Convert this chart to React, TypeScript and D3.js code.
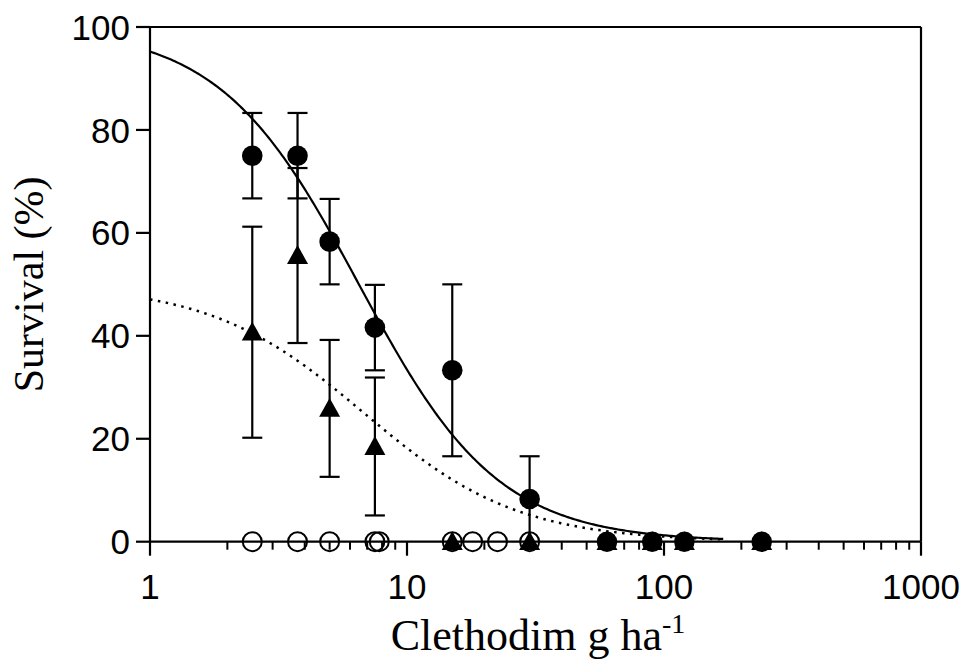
import React from "react";
import * as d3 from "d3";

// ---- data ----
const circleDose = [2.5, 3.75, 5, 7.5, 15, 30, 60, 90, 120, 240];
const circleSurv = [75, 75, 58.3, 41.6, 33.3, 8.3, 0, 0, 0, 0];
const circleErr = [8.3, 8.3, 8.3, 8.3, 16.7, 8.3, 0, 0, 0, 0];

const triDose = [2.5, 3.75, 5, 7.5, 15, 30, 60, 90, 120, 240];
const triSurv = [40.7, 55.6, 25.9, 18.5, 0, 0, 0, 0, 0, 0];
const triErr = [20.5, 17, 13.3, 13.4, 0, 0, 0, 0, 0, 0];

const openDose = [2.5, 3.75, 5, 7.5, 7.8, 15, 18, 22.5, 30];
const openSurv = [0, 0, 0, 0, 0, 0, 0, 0, 0];

// fitted log-logistic curves: top / (1 + (dose/ed50)^slope)
const solidFit = { top: 100, ed50: 6.5, slope: 1.6, maxDose: 170 };
const dottedFit = { top: 50, ed50: 6.8, slope: 1.45, maxDose: 170 };

const xTicks = [1, 10, 100, 1000];
const yTicks = [0, 20, 40, 60, 80, 100];

const W = 970;
const H = 672;
const left = 150;
const right = 921;
const top = 27;
const bottom = 541.7;

export default function App() {
  const x = d3.scaleLog().domain([1, 1000]).range([left, right]);
  const y = d3.scaleLinear().domain([0, 100]).range([bottom, top]);

  const curvePts = (fit: typeof solidFit) => {
    const pts: [number, number][] = [];
    const n = 300;
    const lmax = Math.log10(fit.maxDose);
    for (let i = 0; i <= n; i++) {
      const d = Math.pow(10, (lmax * i) / n);
      pts.push([d, fit.top / (1 + Math.pow(d / fit.ed50, fit.slope))]);
    }
    return pts;
  };
  const line = d3
    .line<[number, number]>()
    .x((d) => x(d[0]))
    .y((d) => y(d[1]))
    .curve(d3.curveLinear);

  const minorTicks: number[] = [];
  for (let dec = 1; dec < 1000; dec *= 10) {
    for (let k = 2; k <= 9; k++) minorTicks.push(dec * k);
  }

  const capW = 10;
  const errBar = (dx: number, m: number, e: number, key: string) => {
    if (e <= 0) return null;
    const cx = x(dx);
    const y1 = y(m + e);
    const y2 = y(Math.max(0, m - e));
    return (
      <g key={key} stroke="#000" strokeWidth={2.2}>
        <line x1={cx} x2={cx} y1={y1} y2={y2} />
        <line x1={cx - capW} x2={cx + capW} y1={y1} y2={y1} />
        {m - e > 0 && <line x1={cx - capW} x2={cx + capW} y1={y2} y2={y2} />}
      </g>
    );
  };

  const tri = (cx: number, cy: number) => {
    const s = 10.5;
    return `M${cx},${cy - s} L${cx + s},${cy + s * 0.8} L${cx - s},${cy + s * 0.8} Z`;
  };

  return (
    <svg
      width={W}
      height={H}
      style={{ position: "absolute", left: 0, top: 0, background: "#fff" }}
    >
      <rect x={0} y={0} width={W} height={H} fill="#fff" />
      {/* fitted curves */}
      <path d={line(curvePts(solidFit)) || ""} fill="none" stroke="#000" strokeWidth={2.2} />
      <path
        d={line(curvePts(dottedFit)) || ""}
        fill="none"
        stroke="#000"
        strokeWidth={2.5}
        strokeDasharray="2.5 5.5"
      />
      {/* error bars */}
      {circleDose.map((d, i) => errBar(d, circleSurv[i], circleErr[i], "ce" + i))}
      {triDose.map((d, i) => errBar(d, triSurv[i], triErr[i], "te" + i))}
      {/* open circles */}
      {openDose.map((d, i) => (
        <circle
          key={"o" + i}
          cx={x(d)}
          cy={y(openSurv[i])}
          r={9.5}
          fill="none"
          stroke="#000"
          strokeWidth={2}
        />
      ))}
      {/* frame */}
      <g stroke="#000" strokeWidth={2.2} fill="none">
        <line x1={left} x2={right} y1={top} y2={top} />
        <line x1={right} x2={right} y1={top} y2={bottom} />
        <line x1={left} x2={left} y1={top} y2={bottom} />
        <line x1={left} x2={right} y1={bottom} y2={bottom} />
      </g>
      {/* triangles */}
      {triDose.map((d, i) => (
        <path key={"t" + i} d={tri(x(d), y(triSurv[i]))} fill="#000" />
      ))}
      {/* filled circles */}
      {circleDose.map((d, i) => (
        <circle key={"c" + i} cx={x(d)} cy={y(circleSurv[i])} r={10.3} fill="#000" />
      ))}
      {/* y ticks */}
      <g>
        {yTicks.map((t) => (
          <g key={"yt" + t}>
            <line x1={left - 14} x2={left} y1={y(t)} y2={y(t)} stroke="#000" strokeWidth={2.2} />
            <text
              x={left - 20}
              y={y(t)}
              dy="0.36em"
              textAnchor="end"
              fontFamily="Liberation Sans, Arial, sans-serif"
              fontSize={35}
              fill="#000"
            >
              {t}
            </text>
          </g>
        ))}
      </g>
      {/* x ticks */}
      <g>
        {xTicks.map((t) => (
          <g key={"xt" + t}>
            <line x1={x(t)} x2={x(t)} y1={bottom} y2={bottom + 14} stroke="#000" strokeWidth={2.2} />
            <text
              x={x(t)}
              y={599}
              textAnchor="middle"
              fontFamily="Liberation Sans, Arial, sans-serif"
              fontSize={35}
              fill="#000"
            >
              {t}
            </text>
          </g>
        ))}
        {minorTicks.map((t) => (
          <line
            key={"mt" + t}
            x1={x(t)}
            x2={x(t)}
            y1={bottom}
            y2={bottom + 8}
            stroke="#000"
            strokeWidth={2}
          />
        ))}
      </g>
      {/* axis titles */}
      <text
        x={538}
        y={650}
        textAnchor="middle"
        fontFamily="Liberation Serif, Times New Roman, serif"
        fontSize={44}
        fill="#000"
      >
        Clethodim g ha
        <tspan fontSize={28} dy={-17}>
          -1
        </tspan>
      </text>
      <text
        transform={`translate(43,${(top + bottom) / 2}) rotate(-90)`}
        textAnchor="middle"
        fontFamily="Liberation Serif, Times New Roman, serif"
        fontSize={42}
        fill="#000"
      >
        Survival (%)
      </text>
    </svg>
  );
}
